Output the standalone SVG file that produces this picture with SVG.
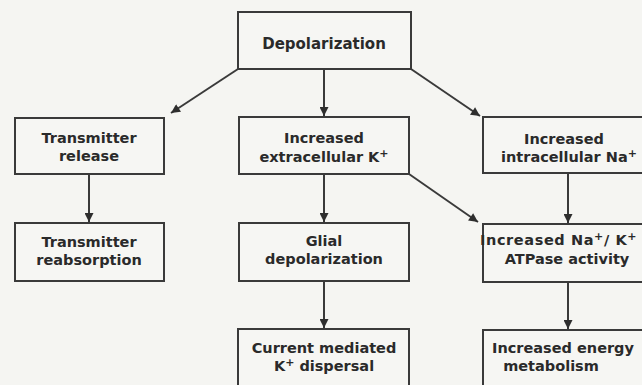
<svg xmlns="http://www.w3.org/2000/svg" width="642" height="385" viewBox="0 0 642 385">
<defs>
<style>
.box{fill:#f6f6f3;stroke:#3a3a3a;stroke-width:2}
.lbl{font-family:"DejaVu Sans","Liberation Sans",sans-serif;font-weight:bold;font-size:14.5px;fill:#2a2a2a;text-anchor:middle}
.sup{font-size:11px}
.con{stroke:#3a3a3a;stroke-width:2;fill:none;marker-end:url(#ah)}
</style>
<marker id="ah" viewBox="0 0 10 10" refX="10" refY="5" markerWidth="10" markerHeight="9" markerUnits="userSpaceOnUse" orient="auto">
<path d="M0,0 L10,5 L0,10 z" fill="#2e2e2e"/>
</marker>
</defs>
<rect width="642" height="385" fill="#f5f5f2"/>
<g id="connectors">
<line class="con" x1="238" y1="69" x2="171" y2="113"/>
<line class="con" x1="324" y1="69" x2="324" y2="116"/>
<line class="con" x1="411" y1="69" x2="480" y2="116"/>
<line class="con" x1="409" y1="174" x2="478" y2="222"/>
<line class="con" x1="89" y1="174" x2="89" y2="222"/>
<line class="con" x1="324" y1="174" x2="324" y2="222"/>
<line class="con" x1="324" y1="281" x2="324" y2="328"/>
<line class="con" x1="568" y1="173" x2="568" y2="223"/>
<line class="con" x1="568" y1="282" x2="568" y2="329"/>
</g>
<g id="depolarization">
<rect class="box" x="238" y="12" width="173" height="57"/>
<text class="lbl" x="324" y="49" style="font-size:15px">Depolarization</text>
</g>
<g id="transmitter-release">
<rect class="box" x="15" y="118" width="149" height="56"/>
<text class="lbl" x="89" y="143">Transmitter</text>
<text class="lbl" x="89" y="161">release</text>
</g>
<g id="transmitter-reabsorption">
<rect class="box" x="15" y="223" width="149" height="58"/>
<text class="lbl" x="89" y="247">Transmitter</text>
<text class="lbl" x="89" y="265">reabsorption</text>
</g>
<g id="extracellular-k">
<rect class="box" x="239" y="117" width="170" height="57"/>
<text class="lbl" x="324" y="143">Increased</text>
<text class="lbl" x="324" y="162">extracellular K<tspan class="sup" dy="-5">+</tspan></text>
</g>
<g id="glial-depolarization">
<rect class="box" x="239" y="223" width="170" height="58"/>
<text class="lbl" x="324" y="246">Glial</text>
<text class="lbl" x="324" y="264">depolarization</text>
</g>
<g id="k-dispersal">
<rect class="box" x="238" y="329" width="171" height="62"/>
<text class="lbl" x="324" y="353">Current mediated</text>
<text class="lbl" x="324" y="371">K<tspan class="sup" dy="-5">+</tspan><tspan dy="5"> dispersal</tspan></text>
</g>
<g id="intracellular-na">
<rect class="box" x="483" y="117" width="170" height="56"/>
<text class="lbl" x="564" y="144">Increased</text>
<text class="lbl" x="569" y="162">intracellular Na<tspan class="sup" dy="-5">+</tspan></text>
</g>
<g id="atpase">
<rect class="box" x="483" y="224" width="170" height="58"/>
<text class="lbl" x="480" y="245" style="text-anchor:start;letter-spacing:0.6px">Increased Na<tspan class="sup" dy="-5">+</tspan><tspan dy="5">/ K</tspan><tspan class="sup" dy="-5">+</tspan></text>
<text class="lbl" x="567" y="264">ATPase activity</text>
</g>
<g id="energy-metabolism">
<rect class="box" x="483" y="330" width="170" height="62"/>
<text class="lbl" x="492" y="353" style="text-anchor:start">Increased energy</text>
<text class="lbl" x="551" y="371">metabolism</text>
</g>
</svg>
